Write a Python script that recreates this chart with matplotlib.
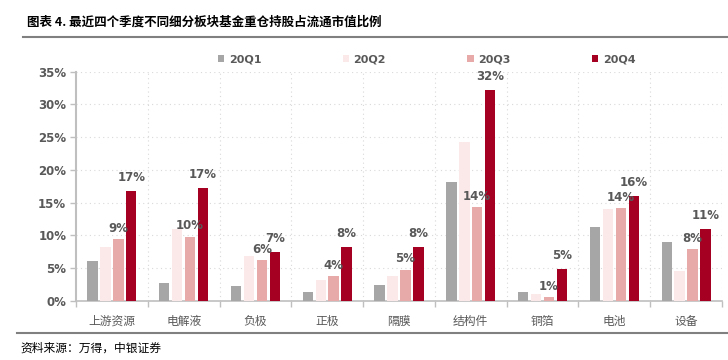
import matplotlib
matplotlib.use("Agg")
import matplotlib.pyplot as plt
import numpy as np

plt.rcParams['font.family'] = ['Noto Sans CJK SC', 'DejaVu Sans']

categories = ["上游资源", "电解液", "负极", "正极", "隔膜", "结构件", "铜箔", "电池", "设备"]
series_names = ["20Q1", "20Q2", "20Q3", "20Q4"]
q1 = [6.1, 2.7, 2.25, 1.3, 2.35, 18.1, 1.3, 11.25, 9.0]
q2 = [8.2, 11.0, 6.9, 3.2, 3.8, 24.3, 1.0, 14.0, 4.6]
q3 = [9.4, 9.8, 6.2, 3.8, 4.75, 14.3, 0.55, 14.2, 7.85]
q4 = [16.7, 17.3, 7.45, 8.2, 8.2, 32.2, 4.9, 16.05, 10.9]
colors = ["#A6A6A6", "#FBE8E8", "#E8A9A9", "#A50021"]
labeled = [False, False, True, True]
yticks = [0, 5, 10, 15, 20, 25, 30, 35]

fig = plt.figure(figsize=(7.28, 3.6), dpi=100)
ax = fig.add_axes([76/728, 1-300.7/360, (722-76)/728, (300.7-71.7)/360])

x = np.arange(len(categories))
width = 0.145
step = 0.18
txt_color = "#595959"
label_offsets = [0, 0, 3, 5]
for i, (vals, c) in enumerate(zip([q1, q2, q3, q4], colors)):
    pos = x + (i - 1.5) * step
    bars = ax.bar(pos, vals, width=width, color=c, label=series_names[i], zorder=3)
    if labeled[i]:
        for b, v in zip(bars, vals):
            ax.annotate(f"{v:.0f}%", (b.get_x() + b.get_width()/2, v),
                        xytext=(0, label_offsets[i]), textcoords="offset points",
                        ha="center", va="bottom", fontsize=8.5, fontweight="bold",
                        color=txt_color, family="DejaVu Sans", zorder=5)

ax.set_xlim(-0.5, len(categories) - 0.5)
ax.set_ylim(0, 35)
ax.set_yticks(yticks)
ax.set_yticklabels([f"{t}%" for t in yticks], fontsize=8.5, fontweight="bold",
                   color=txt_color, family="DejaVu Sans")
ax.set_xticks(x)
ax.set_xticklabels(categories, fontsize=8.5, color=txt_color)
ax.tick_params(axis="x", length=0, pad=10)
ax.tick_params(axis="y", length=4, color="#BFBFBF", width=1, pad=3)
bounds = np.arange(len(categories) + 1) - 0.5
ax.set_xticks(bounds, minor=True)
ax.tick_params(axis="x", which="minor", length=4, color="#BFBFBF", width=1)

for b in bounds[1:]:
    ax.axvline(b, color="#D9D9D9", linestyle=(0, (1, 3)), linewidth=0.8, zorder=1)
for t in yticks[1:]:
    ax.axhline(t, color="#D9D9D9", linestyle=(0, (1, 3)), linewidth=0.8, zorder=1)

for s in ["top", "right"]:
    ax.spines[s].set_visible(False)
ax.spines["left"].set_color("#BFBFBF")
ax.spines["left"].set_linewidth(1.5)
ax.spines["bottom"].set_color("#BFBFBF")
ax.spines["bottom"].set_linewidth(1.2)

leg = ax.legend(loc="center left", bbox_to_anchor=(0.204, 1.055), ncol=4, frameon=False,
                handlelength=0.6, handleheight=0.6, handletextpad=0.4, columnspacing=7.3,
                prop={"family": "DejaVu Sans", "weight": "bold", "size": 8})
for t in leg.get_texts():
    t.set_color(txt_color)

fig.text(27/728, 1-22/360, "图表 4. 最近四个季度不同细分板块基金重仓持股占流通市值比例",
         fontsize=9, fontweight="bold", color="#000000", ha="left", va="center")
fig.add_artist(plt.Line2D([23/728, 1], [1-37/360, 1-37/360], color="#808080", linewidth=1.5))
fig.add_artist(plt.Line2D([17/728, 1], [1-333/360, 1-333/360], color="#808080", linewidth=1.5))
fig.text(20/728, 1-348/360, "资料来源：万得，中银证券", fontsize=8.5, style="italic",
         color="#000000", ha="left", va="center")

fig.savefig("out.png", dpi=100)
